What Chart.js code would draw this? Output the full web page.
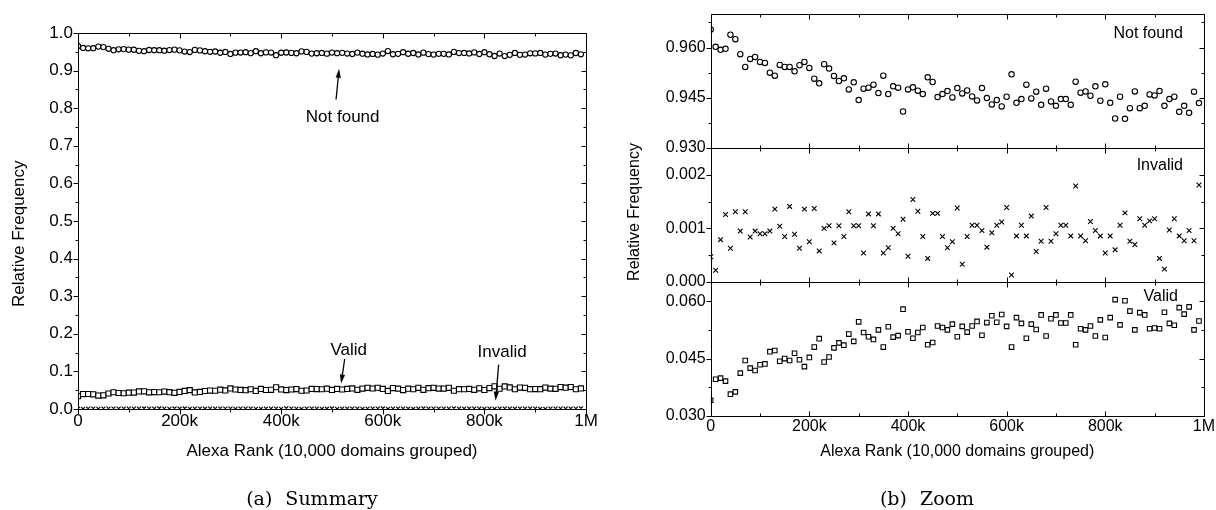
<!DOCTYPE html>
<html>
<head>
<meta charset="utf-8">
<script src="https://cdn.jsdelivr.net/npm/chart.js@4.4.1/dist/chart.umd.min.js"></script>
<style>
  html, body { margin: 0; padding: 0; background: #fff; }
  body { width: 1216px; height: 510px; position: relative; overflow: hidden; }
  .panel { position: absolute; top: 0; height: 510px; }
  #summary { left: 0; width: 600px; }
  #zoom { left: 600px; width: 616px; }
  .caption { position: absolute; top: 487px; font-family: "DejaVu Serif", serif; font-size: 19px; line-height: 22px; white-space: nowrap; transform: translateX(-50%); }
  .caption span { margin-left: 13px; }
</style>
</head>
<body>
<div class="panel" id="summary"><canvas id="grafico1"></canvas></div>
<div class="panel" id="zoom"><canvas id="grafico2"></canvas></div>
<div class="caption" style="left:312px">(a)<span>Summary</span></div>
<div class="caption" style="left:927px">(b)<span>Zoom</span></div>
<script>
// grupos de 10.000 dominios por rango Alexa
const ranks = Array.from({ length: 100 }, (_, i) => i * 10000);

const notFound = [
  0.9654, 0.9602, 0.9593, 0.9596, 0.9638, 0.9625, 0.9580, 0.9542, 0.9566, 0.9572,
  0.9557, 0.9554, 0.9525, 0.9516, 0.9548, 0.9542, 0.9542, 0.9529, 0.9547, 0.9557,
  0.9539, 0.9507, 0.9493, 0.9550, 0.9537, 0.9515, 0.9500, 0.9508, 0.9475, 0.9496,
  0.9443, 0.9477, 0.9480, 0.9489, 0.9464, 0.9516, 0.9461, 0.9484, 0.9480, 0.9409,
  0.9475, 0.9481, 0.9471, 0.9461, 0.9511, 0.9497, 0.9452, 0.9461, 0.9470, 0.9451,
  0.9479, 0.9463, 0.9472, 0.9454, 0.9442, 0.9479, 0.9449, 0.9430, 0.9443, 0.9424,
  0.9453, 0.9520, 0.9435, 0.9446, 0.9489, 0.9448, 0.9468, 0.9429, 0.9477, 0.9439,
  0.9426, 0.9446, 0.9446, 0.9429, 0.9498, 0.9465, 0.9469, 0.9456, 0.9484, 0.9441,
  0.9490, 0.9435, 0.9388, 0.9453, 0.9387, 0.9419, 0.9469, 0.9419, 0.9426, 0.9460,
  0.9457, 0.9470, 0.9426, 0.9446, 0.9453, 0.9408, 0.9426, 0.9405, 0.9468, 0.9434
];

const invalid = [
  0.00047, 0.00022, 0.00079, 0.00126, 0.00063, 0.00131, 0.00095, 0.00131, 0.00084, 0.00095,
  0.00090, 0.00090, 0.00095, 0.00136, 0.00104, 0.00085, 0.00141, 0.00089, 0.00063, 0.00136,
  0.00075, 0.00137, 0.00058, 0.00100, 0.00105, 0.00073, 0.00105, 0.00085, 0.00131, 0.00105,
  0.00105, 0.00054, 0.00127, 0.00105, 0.00127, 0.00054, 0.00064, 0.00100, 0.00090, 0.00117,
  0.00048, 0.00154, 0.00132, 0.00085, 0.00044, 0.00128, 0.00128, 0.00085, 0.00064, 0.00075,
  0.00138, 0.00033, 0.00085, 0.00106, 0.00106, 0.00096, 0.00065, 0.00092, 0.00106, 0.00112,
  0.00139, 0.00013, 0.00086, 0.00106, 0.00086, 0.00123, 0.00057, 0.00076, 0.00139, 0.00076,
  0.00090, 0.00106, 0.00106, 0.00086, 0.00179, 0.00086, 0.00077, 0.00113, 0.00096, 0.00086,
  0.00054, 0.00086, 0.00060, 0.00106, 0.00129, 0.00076, 0.00070, 0.00118, 0.00106, 0.00114,
  0.00118, 0.00044, 0.00024, 0.00097, 0.00118, 0.00086, 0.00077, 0.00096, 0.00077, 0.00181
];

const valid = [
  0.0341, 0.0396, 0.0399, 0.0391, 0.0357, 0.0363, 0.0412, 0.0445, 0.0425, 0.0419,
  0.0434, 0.0436, 0.0468, 0.0471, 0.0443, 0.0450, 0.0445, 0.0464, 0.0447, 0.0429,
  0.0453, 0.0480, 0.0502, 0.0441, 0.0454, 0.0478, 0.0491, 0.0485, 0.0514, 0.0495,
  0.0546, 0.0518, 0.0507, 0.0500, 0.0525, 0.0480, 0.0533, 0.0506, 0.0510, 0.0579,
  0.0520, 0.0503, 0.0518, 0.0531, 0.0486, 0.0492, 0.0535, 0.0531, 0.0525, 0.0540,
  0.0507, 0.0534, 0.0519, 0.0535, 0.0547, 0.0511, 0.0544, 0.0562, 0.0545, 0.0565,
  0.0534, 0.0480, 0.0557, 0.0542, 0.0503, 0.0540, 0.0526, 0.0564, 0.0509, 0.0554,
  0.0564, 0.0543, 0.0543, 0.0564, 0.0486, 0.0528, 0.0525, 0.0535, 0.0509, 0.0551,
  0.0505, 0.0557, 0.0604, 0.0538, 0.0601, 0.0574, 0.0525, 0.0570, 0.0564, 0.0528,
  0.0530, 0.0528, 0.0571, 0.0542, 0.0537, 0.0583, 0.0566, 0.0585, 0.0525, 0.0548
];

// marcas de los ejes (las vacías son marcas menores)
const rankTicks = [0, 100000, 200000, 300000, 400000, 500000, 600000, 700000, 800000, 900000, 1000000];
const rankTickLabels = ['0', '', '200k', '', '400k', '', '600k', '', '800k', '', '1M'];
const summaryTicks = [0, 0.05, 0.1, 0.15, 0.2, 0.25, 0.3, 0.35, 0.4, 0.45, 0.5,
  0.55, 0.6, 0.65, 0.7, 0.75, 0.8, 0.85, 0.9, 0.95, 1.0];
const notFoundTicks = [0.930, 0.9375, 0.945, 0.9525, 0.960, 0.9675];
const invalidTicks = [0, 0.0005, 0.001, 0.0015, 0.002];
const validTicks = [0.030, 0.0375, 0.045, 0.0525, 0.060];

const FONT = '"Liberation Sans", Arial, Helvetica, sans-serif';
Chart.defaults.font.family = FONT;
Chart.defaults.color = '#000';

function serie(label, values, axis, style, radius) {
  return {
    label: label,
    data: values.map((v, i) => ({ x: ranks[i], y: v })),
    yAxisID: axis,
    pointStyle: style,
    pointRadius: radius,
    pointHoverRadius: radius,
    pointBorderColor: '#000',
    pointBackgroundColor: '#fff',
    pointBorderWidth: 1.1,
    showLine: false,
    clip: 0
  };
}

// punto central de los círculos y cuadrados
function centro(values, axis) {
  return {
    data: values.map((v, i) => ({ x: ranks[i], y: v })),
    yAxisID: axis,
    pointStyle: 'circle',
    pointRadius: 0.9,
    pointHoverRadius: 0.9,
    pointBorderWidth: 0,
    pointBackgroundColor: '#000',
    showLine: false,
    clip: 0
  };
}

const crisp = v => Math.round(v) + 0.5;

// marco, separadores y marcas de los ejes
const frame = {
  id: 'frame',
  afterDatasetsDraw(chart, args, o) {
    const { ctx, chartArea: a } = chart;
    const xs = chart.scales.x;
    ctx.save();
    ctx.strokeStyle = '#000';
    ctx.lineWidth = 1;
    ctx.beginPath();
    const L = crisp(a.left), R = crisp(a.right);
    Object.values(chart.scales).filter(s => s.axis === 'y').forEach(s => {
      const T = crisp(s.top), B = crisp(s.bottom);
      ctx.moveTo(L, T); ctx.lineTo(R, T);
      ctx.moveTo(L, B); ctx.lineTo(R, B);
      ctx.moveTo(L, T); ctx.lineTo(L, B);
      ctx.moveTo(R, T); ctx.lineTo(R, B);
      s.ticks.forEach(t => {
        const y = crisp(s.getPixelForValue(t.value));
        const len = t.label ? 5 : 3;
        ctx.moveTo(L - len, y); ctx.lineTo(L, y);
        ctx.moveTo(R - len, y); ctx.lineTo(R, y);
      });
      xs.ticks.forEach(t => {
        const x = crisp(xs.getPixelForValue(t.value));
        const len = t.label ? 5 : 3;
        ctx.moveTo(x, T); ctx.lineTo(x, T + len);
        if (o.outward && Math.abs(s.bottom - a.bottom) < 1) {
          ctx.moveTo(x, B); ctx.lineTo(x, B + len);
        } else {
          ctx.moveTo(x, B); ctx.lineTo(x, B - len);
        }
      });
    });
    ctx.stroke();
    ctx.restore();
  }
};

// título vertical del eje y
const yTitle = {
  id: 'yTitle',
  afterDraw(chart, args, o) {
    const { ctx, chartArea: a } = chart;
    ctx.save();
    ctx.translate(a.left + o.dx, (a.top + a.bottom) / 2 + o.dy);
    ctx.rotate(-Math.PI / 2);
    ctx.font = o.font;
    ctx.fillStyle = '#000';
    ctx.textAlign = 'center';
    ctx.textBaseline = 'middle';
    ctx.fillText(o.text, 0, 0);
    ctx.restore();
  }
};

// etiquetas con flecha (gráfico resumen)
const summaryNotes = [
  { text: 'Not found', at: [521000, 0.777], from: [508000, 0.823], to: [514000, 0.905] },
  { text: 'Valid', at: [533000, 0.156], from: [525000, 0.133], to: [518000, 0.068] },
  { text: 'Invalid', at: [835000, 0.150], from: [828000, 0.118], to: [822000, 0.022] }
];

const notes = {
  id: 'notes',
  afterDraw(chart, args, o) {
    const { ctx } = chart;
    const xs = chart.scales.x, ys = chart.scales.y;
    ctx.save();
    ctx.fillStyle = '#000';
    ctx.strokeStyle = '#000';
    ctx.lineWidth = 1.3;
    ctx.font = o.font;
    ctx.textAlign = 'center';
    ctx.textBaseline = 'middle';
    o.items.forEach(n => {
      ctx.fillText(n.text, xs.getPixelForValue(n.at[0]), ys.getPixelForValue(n.at[1]));
      const x1 = xs.getPixelForValue(n.from[0]), y1 = ys.getPixelForValue(n.from[1]);
      const x2 = xs.getPixelForValue(n.to[0]), y2 = ys.getPixelForValue(n.to[1]);
      const ang = Math.atan2(y2 - y1, x2 - x1);
      const c = Math.cos(ang), s = Math.sin(ang);
      const head = 9, half = 2.6;
      ctx.beginPath();
      ctx.moveTo(x1, y1);
      ctx.lineTo(x2 - head * c * 0.7, y2 - head * s * 0.7);
      ctx.stroke();
      ctx.beginPath();
      ctx.moveTo(x2, y2);
      ctx.lineTo(x2 - head * c + half * s, y2 - head * s - half * c);
      ctx.lineTo(x2 - head * c - half * s, y2 - head * s + half * c);
      ctx.closePath();
      ctx.fill();
    });
    ctx.restore();
  }
};

// nombre de cada sub-gráfico (zoom)
const panelNames = {
  id: 'panelNames',
  afterDraw(chart, args, o) {
    const { ctx, chartArea: a } = chart;
    ctx.save();
    ctx.fillStyle = '#000';
    ctx.font = o.font;
    ctx.textAlign = 'right';
    ctx.textBaseline = 'middle';
    o.items.forEach(p => {
      ctx.fillText(p.text, a.right + p.dx, chart.scales[p.scale].top + p.dy);
    });
    ctx.restore();
  }
};

function xScale(size, height, pad) {
  return {
    type: 'linear',
    min: 0,
    max: 1000000,
    afterBuildTicks: s => { s.ticks = rankTicks.map(v => ({ value: v })); },
    afterFit: s => { s.height = height; },
    ticks: {
      autoSkip: false,
      maxRotation: 0,
      padding: pad,
      font: { size: size },
      callback: (v, i) => rankTickLabels[i]
    },
    grid: { display: false, drawTicks: false },
    border: { display: false },
    title: {
      display: true,
      text: 'Alexa Rank (10,000 domains grouped)',
      font: { size: size },
      padding: { top: 0, bottom: 0 }
    }
  };
}

function yScale(min, max, ticks, digits, size, width, stack) {
  const s = {
    type: 'linear',
    position: 'left',
    min: min,
    max: max,
    afterBuildTicks: sc => { sc.ticks = ticks.map(v => ({ value: v })); },
    afterFit: sc => { sc.width = width; },
    ticks: {
      autoSkip: false,
      padding: 2,
      font: { size: size },
      callback: (v, i) => (i % 2 === 0 ? v.toFixed(digits) : '')
    },
    grid: { display: false, drawTicks: true, tickLength: 3 },
    border: { display: false }
  };
  if (stack) {
    s.stack = stack;
    s.stackWeight = 1;
  }
  return s;
}

const ctx1 = document.getElementById('grafico1');

new Chart(ctx1, {
  type: 'scatter',
  data: {
    datasets: [
      serie('Not found', notFound, 'y', 'circle', 2.6),
      centro(notFound, 'y'),
      serie('Valid', valid, 'y', 'rect', 3.6),
      centro(valid, 'y'),
      serie('Invalid', invalid, 'y', 'crossRot', 2.8)
    ]
  },
  options: {
    responsive: true,
    maintainAspectRatio: false,
    animation: false,
    events: [],
    layout: { padding: { left: 0, right: 14, top: 33, bottom: 48 } },
    scales: {
      x: xScale(17, 53, 2),
      y: yScale(0, 1, summaryTicks, 1, 17, 78)
    },
    plugins: {
      legend: { display: false },
      tooltip: { enabled: false },
      frame: { outward: true },
      yTitle: { text: 'Relative Frequency', font: '17px ' + FONT, dx: -58.3, dy: 12.7 },
      notes: { items: summaryNotes, font: '17px ' + FONT }
    }
  },
  plugins: [frame, yTitle, notes]
});

const ctx2 = document.getElementById('grafico2');

// los ejes apilados se colocan de abajo hacia arriba según su orden
new Chart(ctx2, {
  type: 'scatter',
  data: {
    datasets: [
      serie('Not found', notFound, 'yTop', 'circle', 2.7),
      centro(notFound, 'yTop'),
      serie('Invalid', invalid, 'yMid', 'crossRot', 3.3),
      serie('Valid', valid, 'yBot', 'rect', 3.2),
      centro(valid, 'yBot')
    ]
  },
  options: {
    responsive: true,
    maintainAspectRatio: false,
    animation: false,
    events: [],
    layout: { padding: { left: 0, right: 12, top: 14, bottom: 49 } },
    scales: {
      x: xScale(16, 45, 1),
      yBot: yScale(0.030, 0.065, validTicks, 3, 16, 110.7, 'zoom'),
      yMid: yScale(0, 0.0025, invalidTicks, 3, 16, 110.7, 'zoom'),
      yTop: yScale(0.930, 0.970, notFoundTicks, 3, 16, 110.7, 'zoom')
    },
    plugins: {
      legend: { display: false },
      tooltip: { enabled: false },
      frame: { outward: false },
      yTitle: { text: 'Relative Frequency', font: '16px ' + FONT, dx: -75.7, dy: -3 },
      panelNames: {
        font: '16px ' + FONT,
        items: [
          { scale: 'yTop', text: 'Not found', dx: -21, dy: 19.5 },
          { scale: 'yMid', text: 'Invalid', dx: -21, dy: 18 },
          { scale: 'yBot', text: 'Valid', dx: -26, dy: 15 }
        ]
      }
    }
  },
  plugins: [frame, yTitle, panelNames]
});
</script>
</body>
</html>
